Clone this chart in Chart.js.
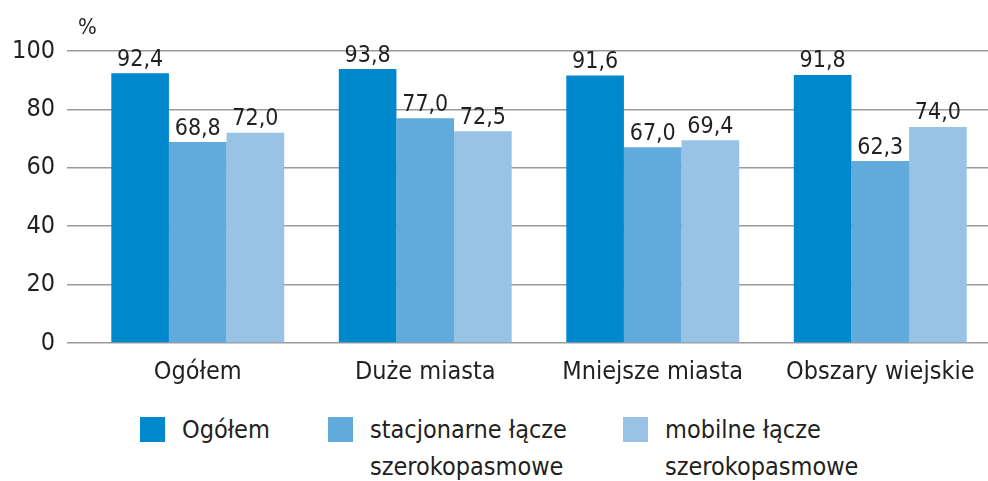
<!DOCTYPE html>
<html>
<head>
<meta charset="utf-8">
<script src="https://cdn.jsdelivr.net/npm/chart.js@4"></script>
<style>
    html, body { margin: 0; padding: 0; background: #fff; }
    body { width: 988px; height: 481px; position: relative; overflow: hidden;
           font-family: "Liberation Sans Narrow", "DejaVu Sans Condensed", sans-serif; color: #231f20; }
    #wrap { position: absolute; left: 0; top: 0; width: 994px; height: 400px; }
    .unit { position: absolute; left: 78px; top: 14px; font-size: 22px; }
    .legend-item { position: absolute; top: 411px; display: flex; align-items: flex-start; font-size: 25px; line-height: 37px; }
    .legend-item .box { width: 25px; height: 25px; margin-top: 6px; margin-right: 17px; flex: none; }
</style>
</head>
<body>
<div id="wrap"><canvas id="chart" width="994" height="400"></canvas></div>
<div class="unit">%</div>
<div id="legend"></div>
<script>
const categories = ['Ogółem', 'Duże miasta', 'Mniejsze miasta', 'Obszary wiejskie'];
const seriesNames = ['Ogółem', 'stacjonarne łącze\nszerokopasmowe', 'mobilne łącze\nszerokopasmowe'];
const totalValues = [92.4, 93.8, 91.6, 91.8];
const fixedValues = [68.8, 77.0, 67.0, 62.3];
const mobileValues = [72.0, 72.5, 69.4, 74.0];
const yTicks = [0, 20, 40, 60, 80, 100];

const colors = ['#0088cc', '#60aadc', '#98c2e6'];
const legendLeft = [140, 328, 623];
const fontFamily = '"Liberation Sans Narrow", "DejaVu Sans Condensed", sans-serif';
const textColor = '#231f20';

const valueLabels = {
    id: 'valueLabels',
    afterDatasetsDraw(chart) {
        const ctx = chart.ctx;
        ctx.save();
        ctx.font = `23px ${fontFamily}`;
        ctx.fillStyle = textColor;
        ctx.textAlign = 'center';
        ctx.textBaseline = 'bottom';
        chart.data.datasets.forEach((ds, i) => {
            chart.getDatasetMeta(i).data.forEach((bar, j) => {
                const text = ds.data[j].toFixed(1).replace('.', ',');
                ctx.fillText(text, bar.x, bar.y - 2);
            });
        });
        ctx.restore();
    },
};

const datasets = [totalValues, fixedValues, mobileValues].map((values, i) => ({
    label: seriesNames[i],
    data: values,
    backgroundColor: colors[i],
    borderWidth: 0,
    barPercentage: 1,
    categoryPercentage: 0.76,
}));

new Chart(document.getElementById('chart'), {
    type: 'bar',
    data: { labels: categories, datasets },
    options: {
        responsive: false,
        animation: false,
        layout: { padding: { top: 0, right: 0, bottom: 0, left: 0 } },
        plugins: { legend: { display: false }, tooltip: { enabled: false } },
        scales: {
            x: {
                grid: { display: false },
                border: { display: false },
                ticks: { color: textColor, font: { family: fontFamily, size: 25 }, padding: 6 },
                afterFit(scale) { scale.height = 57; },
            },
            y: {
                min: 0,
                max: 100,
                afterBuildTicks(scale) { scale.ticks = yTicks.map(v => ({ value: v })); },
                grid: { color: '#9a9a9a', lineWidth: 1.5, tickLength: 17, drawTicks: true },
                border: { display: false },
                ticks: { color: textColor, font: { family: fontFamily, size: 25 }, padding: 12 },
                afterFit(scale) { scale.width = 84; scale.paddingTop = 51; },
            },
        },
    },
    plugins: [valueLabels],
});

const legend = document.getElementById('legend');
seriesNames.forEach((name, i) => {
    const item = document.createElement('div');
    item.className = 'legend-item';
    item.style.left = legendLeft[i] + 'px';
    const box = document.createElement('div');
    box.className = 'box';
    box.style.background = colors[i];
    const label = document.createElement('div');
    label.innerHTML = name.split('\n').join('<br>');
    item.appendChild(box);
    item.appendChild(label);
    legend.appendChild(item);
});
</script>
</body>
</html>
